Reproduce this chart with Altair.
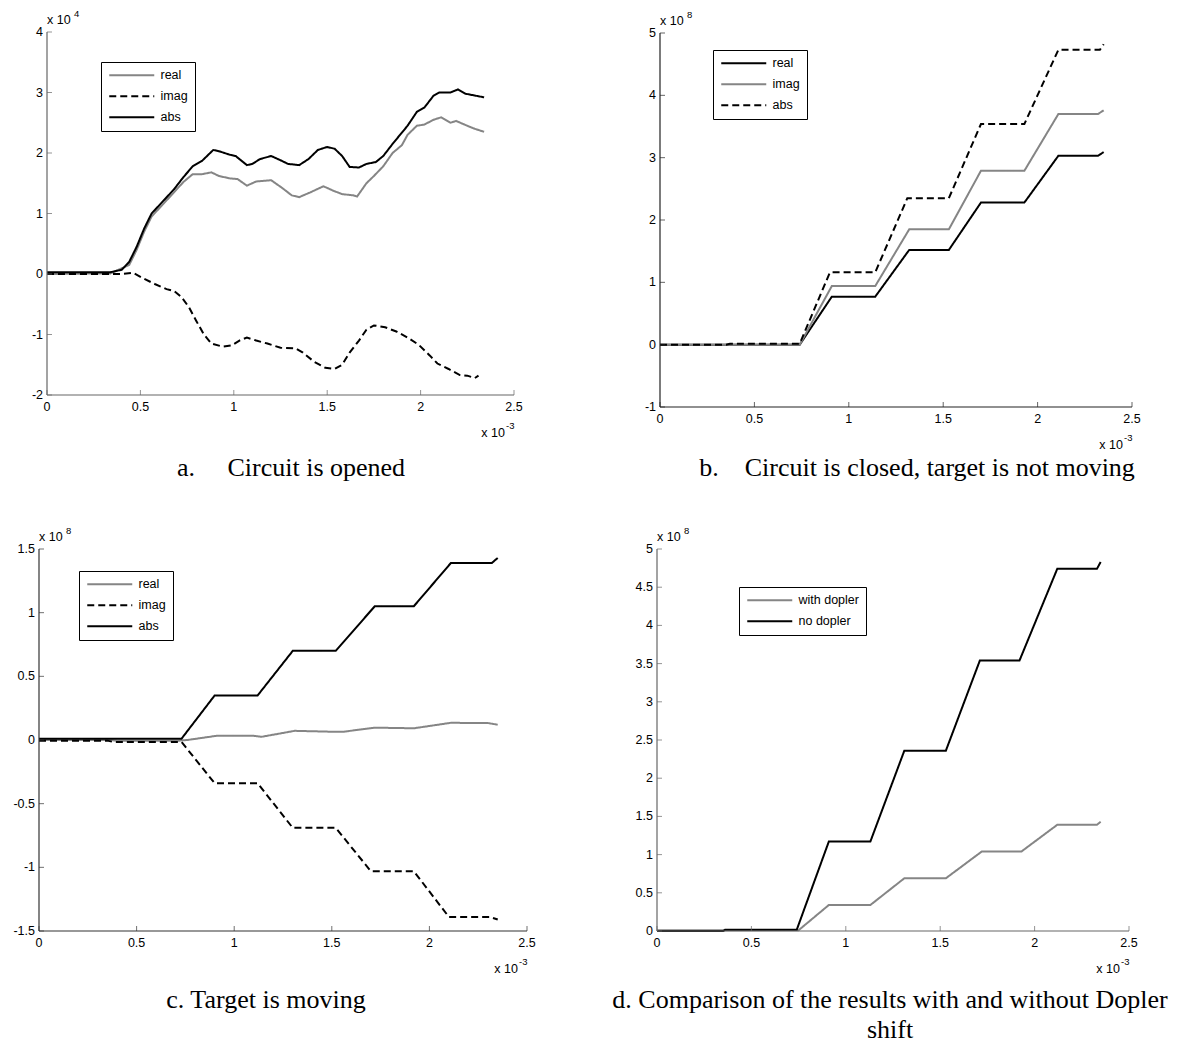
import altair as alt
import pandas as pd

FONT = "Liberation Sans"
SERIF = "Liberation Serif"
GRAY = "#858585"
BLACK = "#000000"
SOLID = [1, 0]
DASH = [7, 4]

# ---------------- panel a: circuit is opened (x in 1e-3 s, y in 1e4)
a_abs_t = [0, 0.34, 0.40, 0.44, 0.48, 0.52, 0.56, 0.62, 0.68, 0.73, 0.78, 0.83, 0.89, 0.92, 0.98,
           1.01, 1.07, 1.10, 1.14, 1.20, 1.25, 1.29, 1.35, 1.40, 1.45, 1.50, 1.54, 1.58, 1.62, 1.67,
           1.71, 1.76, 1.80, 1.85, 1.89, 1.93, 1.98, 2.02, 2.07, 2.10, 2.16, 2.20, 2.24, 2.29, 2.34]
a_abs_v = [0.03, 0.03, 0.07, 0.2, 0.45, 0.75, 1.0, 1.2, 1.4, 1.6, 1.78, 1.87, 2.05, 2.03, 1.97,
           1.95, 1.8, 1.82, 1.9, 1.95, 1.88, 1.82, 1.8, 1.9, 2.05, 2.1, 2.07, 1.95, 1.77, 1.76,
           1.82, 1.85, 1.95, 2.15, 2.3, 2.45, 2.68, 2.75, 2.95, 3.0, 3.0, 3.05, 2.98, 2.95, 2.92]
a_real_t = [0, 0.34, 0.44, 0.48, 0.52, 0.56, 0.62, 0.68, 0.73, 0.78, 0.83, 0.88, 0.92, 0.98, 1.02,
            1.07, 1.12, 1.20, 1.26, 1.31, 1.35, 1.41, 1.48, 1.53, 1.58, 1.64, 1.66, 1.71, 1.75, 1.80,
            1.85, 1.90, 1.93, 1.98, 2.02, 2.07, 2.11, 2.16, 2.19, 2.25, 2.29, 2.34]
a_real_v = [0.0, 0.01, 0.15, 0.4, 0.7, 0.95, 1.15, 1.35, 1.52, 1.65, 1.65, 1.68, 1.62, 1.58, 1.57,
            1.46, 1.53, 1.55, 1.42, 1.3, 1.27, 1.35, 1.45, 1.38, 1.32, 1.3, 1.28, 1.5, 1.62, 1.78,
            2.0, 2.13, 2.3, 2.45, 2.47, 2.55, 2.59, 2.5, 2.53, 2.45, 2.4, 2.35]
a_imag_t = [0, 0.40, 0.46, 0.52, 0.58, 0.64, 0.68, 0.72, 0.76, 0.80, 0.84, 0.88, 0.94, 0.99, 1.03,
            1.07, 1.12, 1.18, 1.25, 1.33, 1.37, 1.43, 1.49, 1.54, 1.58, 1.62, 1.67, 1.71, 1.75, 1.81,
            1.87, 1.93, 1.99, 2.05, 2.09, 2.15, 2.21, 2.25, 2.29, 2.31]
a_imag_v = [0.0, 0.0, 0.02, -0.08, -0.17, -0.25, -0.28, -0.38, -0.55, -0.78, -1.0, -1.15, -1.2, -1.18, -1.1,
            -1.05, -1.1, -1.15, -1.22, -1.23, -1.3, -1.45, -1.55, -1.57, -1.5, -1.3, -1.1, -0.92, -0.85, -0.88,
            -0.95, -1.05, -1.17, -1.35, -1.48, -1.57, -1.67, -1.68, -1.72, -1.68]

# ---------------- panel b: circuit closed, target not moving (y in 1e8)
b_t = [0, 0.35, 0.74, 0.91, 1.14, 1.32, 1.53, 1.70, 1.93, 2.11, 2.32, 2.35]
b_real_v = [0, 0, 0, 0.77, 0.77, 1.52, 1.52, 2.28, 2.28, 3.03, 3.03, 3.09]
b_imag_v = [0, 0, 0, 0.94, 0.94, 1.85, 1.85, 2.79, 2.79, 3.70, 3.70, 3.76]
b_abs_t = [0, 0.35, 0.37, 0.74, 0.90, 1.14, 1.31, 1.53, 1.70, 1.93, 2.11, 2.33, 2.35]
b_abs_v = [0, 0, 0.015, 0.015, 1.16, 1.16, 2.35, 2.35, 3.54, 3.54, 4.73, 4.73, 4.82]

# ---------------- panel c: target is moving (y in 1e8)
c_real_t = [0, 0.35, 0.40, 0.72, 0.76, 0.91, 1.10, 1.14, 1.31, 1.50, 1.56, 1.72, 1.92, 2.11, 2.30, 2.35]
c_real_v = [0, 0, -0.005, -0.005, 0.0, 0.033, 0.033, 0.025, 0.072, 0.065, 0.065, 0.097, 0.092, 0.135, 0.133, 0.12]
c_imag_t = [0, 0.35, 0.38, 0.73, 0.90, 1.12, 1.30, 1.52, 1.70, 1.92, 2.10, 2.31, 2.35]
c_imag_v = [-0.005, -0.005, -0.015, -0.015, -0.34, -0.34, -0.69, -0.69, -1.03, -1.03, -1.39, -1.39, -1.41]
c_abs_t = [0, 0.73, 0.90, 1.12, 1.30, 1.52, 1.72, 1.92, 2.11, 2.32, 2.35]
c_abs_v = [0.01, 0.01, 0.35, 0.35, 0.70, 0.70, 1.05, 1.05, 1.39, 1.39, 1.43]

# ---------------- panel d: with / without Doppler (y in 1e8)
d_with_t = [0, 0.75, 0.91, 1.13, 1.31, 1.53, 1.72, 1.93, 2.12, 2.33, 2.35]
d_with_v = [0.01, 0.01, 0.34, 0.34, 0.69, 0.69, 1.04, 1.04, 1.39, 1.39, 1.43]
d_no_t = [0, 0.35, 0.36, 0.74, 0.91, 1.13, 1.31, 1.53, 1.71, 1.92, 2.12, 2.33, 2.35]
d_no_v = [0, 0, 0.015, 0.015, 1.17, 1.17, 2.36, 2.36, 3.54, 3.54, 4.74, 4.74, 4.83]

# ---------------- tick labels
x_ticks = [0, 0.5, 1, 1.5, 2, 2.5]
x_labels = ["0", "0.5", "1", "1.5", "2", "2.5"]
a_yticks = [-2, -1, 0, 1, 2, 3, 4]
a_ylabels = ["-2", "-1", "0", "1", "2", "3", "4"]
b_yticks = [-1, 0, 1, 2, 3, 4, 5]
b_ylabels = ["-1", "0", "1", "2", "3", "4", "5"]
c_yticks = [-1.5, -1, -0.5, 0, 0.5, 1, 1.5]
c_ylabels = ["-1.5", "-1", "-0.5", "0", "0.5", "1", "1.5"]
d_yticks = [0, 0.5, 1, 1.5, 2, 2.5, 3, 3.5, 4, 4.5, 5]
d_ylabels = ["0", "0.5", "1", "1.5", "2", "2.5", "3", "3.5", "4", "4.5", "5"]

captions = ["a.\u00a0\u00a0\u00a0\u00a0\u00a0Circuit is opened",
            "b.\u00a0\u00a0\u00a0\u00a0Circuit is closed, target is not moving",
            "c. Target is moving",
            "d. Comparison of the results with and without Dopler\nshift"]


def make_panel(series, xdom, xrng, ydom, yrng, yticks, ylabels, yexp, legend_xy, axis_color):
    rows = []
    for name, ts, vs, _, _ in series:
        for t, v in zip(ts, vs):
            rows.append({"t": t, "v": v, "series": name})
    df = pd.DataFrame(rows)
    names = [s[0] for s in series]
    colors = [s[3] for s in series]
    dashes = [s[4] for s in series]
    xs = alt.Scale(domain=xdom, range=xrng, nice=False, zero=False)
    ys = alt.Scale(domain=ydom, range=yrng, nice=False, zero=False)
    leg = alt.Legend(orient="none", legendX=legend_xy[0], legendY=legend_xy[1], title=None,
                     strokeColor="black", fillColor="white", padding=7, rowPadding=8,
                     symbolType="M-1,0H8", symbolSize=100, symbolStrokeWidth=2,
                     symbolOffset=0, labelOffset=40, labelFont=FONT, labelFontSize=12.5,
                     labelColor="black", cornerRadius=0)
    lines = alt.Chart(df).mark_line(strokeWidth=2).encode(
        x=alt.X("t:Q", scale=xs, axis=None),
        y=alt.Y("v:Q", scale=ys, axis=None),
        color=alt.Color("series:N", scale=alt.Scale(domain=names, range=colors), legend=leg),
        strokeDash=alt.StrokeDash("series:N", scale=alt.Scale(domain=names, range=dashes), legend=leg),
    )
    frame = pd.DataFrame({"x0": [xdom[0]], "x1": [xdom[1]], "y0": [ydom[0]], "y1": [ydom[1]],
                          "yb": [yexp[0]], "ys": [yexp[1]], "xb": ["x 10"], "xsup": ["-3"]})
    xt = pd.DataFrame({"xt": x_ticks, "xl": x_labels, "y0": [ydom[0]] * len(x_ticks)})
    yt = pd.DataFrame({"yt": yticks, "yl": ylabels, "x0": [xdom[0]] * len(yticks)})

    xaxis = alt.Chart(frame).mark_rule(color=axis_color, strokeWidth=1.2).encode(
        x=alt.X("x0:Q", axis=None), x2="x1:Q", y=alt.Y("y0:Q", axis=None))
    yaxis = alt.Chart(frame).mark_rule(color=axis_color, strokeWidth=1.2).encode(
        x=alt.X("x0:Q", axis=None), y=alt.Y("y0:Q", axis=None), y2="y1:Q")
    xtick = alt.Chart(xt).mark_tick(orient="vertical", size=5, thickness=1, yOffset=-2.5,
                                    color=axis_color).encode(
        x=alt.X("xt:Q", axis=None), y=alt.Y("y0:Q", axis=None))
    ytick = alt.Chart(yt).mark_tick(orient="horizontal", size=5, thickness=1, xOffset=2.5,
                                    color=axis_color).encode(
        x=alt.X("x0:Q", axis=None), y=alt.Y("yt:Q", axis=None))
    xlab = alt.Chart(xt).mark_text(font=FONT, fontSize=12.5, dy=12, baseline="middle",
                                   align="center", color="black").encode(
        x=alt.X("xt:Q", axis=None), y=alt.Y("y0:Q", axis=None), text="xl:N")
    ylab = alt.Chart(yt).mark_text(font=FONT, fontSize=12.5, dx=-4, baseline="middle",
                                   align="right", color="black").encode(
        x=alt.X("x0:Q", axis=None), y=alt.Y("yt:Q", axis=None), text="yl:N")
    yexp_b = alt.Chart(frame).mark_text(font=FONT, fontSize=12.5, dy=-12, align="left",
                                        baseline="middle", color="black").encode(
        x=alt.X("x0:Q", axis=None), y=alt.Y("y1:Q", axis=None), text="yb:N")
    yexp_s = alt.Chart(frame).mark_text(font=FONT, fontSize=9.5, dx=27, dy=-18, align="left",
                                        baseline="middle", color="black").encode(
        x=alt.X("x0:Q", axis=None), y=alt.Y("y1:Q", axis=None), text="ys:N")
    xexp_b = alt.Chart(frame).mark_text(font=FONT, fontSize=12.5, dx=-9, dy=38, align="right",
                                        baseline="middle", color="black").encode(
        x=alt.X("x1:Q", axis=None), y=alt.Y("y0:Q", axis=None), text="xb:N")
    xexp_s = alt.Chart(frame).mark_text(font=FONT, fontSize=9.5, dx=-8, dy=31, align="left",
                                        baseline="middle", color="black").encode(
        x=alt.X("x1:Q", axis=None), y=alt.Y("y0:Q", axis=None), text="xsup:N")
    return alt.layer(lines, xaxis, yaxis, xtick, ytick, xlab, ylab, yexp_b, yexp_s, xexp_b, xexp_s)


pa = make_panel([("real", a_real_t, a_real_v, GRAY, SOLID),
                 ("imag", a_imag_t, a_imag_v, BLACK, DASH),
                 ("abs", a_abs_t, a_abs_v, BLACK, SOLID)],
                [0, 2.5], [39, 506], [-2, 4], [387, 24], a_yticks, a_ylabels, ["x 10", "4"],
                (93, 54), "#666666")
pb = make_panel([("real", b_t, b_real_v, BLACK, SOLID),
                 ("imag", b_t, b_imag_v, GRAY, SOLID),
                 ("abs", b_abs_t, b_abs_v, BLACK, DASH)],
                [0, 2.5], [652, 1124], [-1, 5], [399, 25], b_yticks, b_ylabels, ["x 10", "8"],
                (705, 42), "#222222")
pc = make_panel([("real", c_real_t, c_real_v, GRAY, SOLID),
                 ("imag", c_imag_t, c_imag_v, BLACK, DASH),
                 ("abs", c_abs_t, c_abs_v, BLACK, SOLID)],
                [0, 2.5], [31, 519], [-1.5, 1.5], [923, 541], c_yticks, c_ylabels, ["x 10", "8"],
                (71, 563), "#333333")
pd_ = make_panel([("with dopler", d_with_t, d_with_v, GRAY, SOLID),
                  ("no dopler", d_no_t, d_no_v, BLACK, SOLID)],
                 [0, 2.5], [649, 1121], [0, 5], [923, 541], d_yticks, d_ylabels, ["x 10", "8"],
                 (731, 579), "#666666")

cap_df = pd.DataFrame({"cap": captions})


def caption(i, cx, cy):
    return alt.Chart(cap_df.iloc[[i]]).mark_text(
        font=SERIF, fontSize=26, align="center", baseline="middle", color="black",
        lineBreak="\n", lineHeight=30).encode(
        x=alt.value(cx), y=alt.value(cy), text="cap:N")


caps = [caption(0, 283, 460), caption(1, 909, 460), caption(2, 258, 992), caption(3, 882, 992)]

chart = alt.layer(pa, pb, pc, pd_, *caps).resolve_scale(
    x="independent", y="independent", color="independent", strokeDash="independent"
).resolve_legend(color="independent", strokeDash="independent").properties(
    width=1161, height=1047, padding=0, background="white",
    autosize=alt.AutoSizeParams(type="none")
).configure_view(strokeWidth=0, stroke="transparent")

chart.save("out.html", embed_options={"renderer": "svg", "actions": False})
